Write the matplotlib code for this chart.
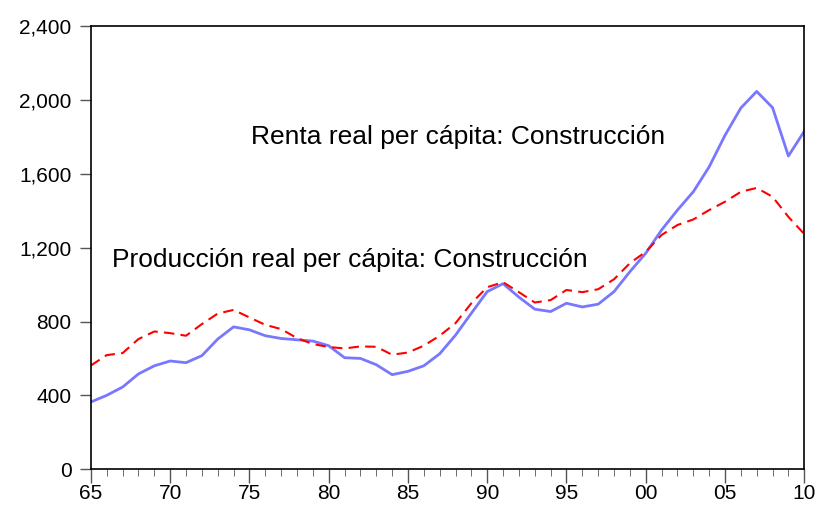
import numpy as np
import matplotlib.pyplot as plt
from matplotlib.ticker import MultipleLocator, FuncFormatter

plt.rcParams["font.family"] = ["Liberation Sans", "DejaVu Sans"]

years = np.arange(1965, 2011)

# Renta real per capita: Construccion
renta = [364, 400, 445, 516, 560, 586, 577, 615, 705, 771,
         755, 723, 708, 701, 694, 669, 604, 600, 566, 512,
         530, 560, 625, 726, 845, 962, 1005, 932, 867, 854,
         899, 879, 894, 962, 1070, 1170, 1296, 1404, 1503, 1638,
         1809, 1957, 2047, 1959, 1697, 1831]

# Produccion real per capita: Construccion
produccion = [562, 618, 629, 705, 746, 737, 723, 786, 843, 863,
              822, 782, 759, 710, 678, 662, 654, 665, 663, 620,
              632, 669, 723, 791, 899, 986, 1013, 959, 903, 916,
              971, 959, 975, 1029, 1116, 1178, 1269, 1323, 1353, 1404,
              1449, 1503, 1524, 1476, 1367, 1274]

fig = plt.figure(figsize=(8.19, 5.05), dpi=100)
ax = fig.add_axes([0.111, 0.071, 0.871, 0.877])

ax.plot(years, renta, color="#7878ff", linewidth=2.0, solid_joinstyle="round")
ax.plot(years, produccion, color="#ff0000", linewidth=1.5, linestyle=(0, (5, 3)))

ax.set_xlim(1965, 2010)
ax.set_ylim(0, 2400)
ax.yaxis.set_major_locator(MultipleLocator(400))
ax.yaxis.set_major_formatter(FuncFormatter(lambda v, p: f"{int(v):,}"))
ax.xaxis.set_major_locator(MultipleLocator(5))
ax.xaxis.set_minor_locator(MultipleLocator(1))
ax.xaxis.set_major_formatter(FuncFormatter(lambda v, p: f"{int(v) % 100:02d}"))

ax.tick_params(axis="both", which="major", direction="out", labelsize=15,
               color="#555555", width=1)
ax.tick_params(axis="x", which="major", length=10, pad=1)
ax.tick_params(axis="x", which="minor", length=5, color="#555555")
ax.tick_params(axis="y", which="major", length=8, pad=6)
for s in ax.spines.values():
    s.set_linewidth(1.2)

ax.text(0.225, 0.749, "Renta real per cápita: Construcción", transform=ax.transAxes,
        fontsize=19, va="center", ha="left")
ax.text(0.0295, 0.472, "Producción real per cápita: Construcción", transform=ax.transAxes,
        fontsize=19, va="center", ha="left")

fig.savefig("out.png", dpi=100)
